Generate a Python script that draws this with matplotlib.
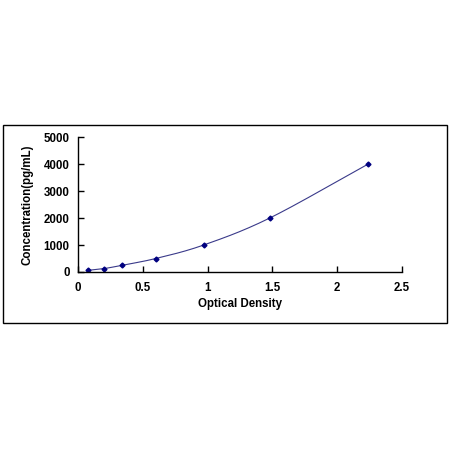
import numpy as np
import matplotlib
matplotlib.use("Agg")
import matplotlib.pyplot as plt
from matplotlib.patches import Rectangle

od = [0.08, 0.20, 0.34, 0.60, 0.97, 1.48, 2.24]
conc = [62.5, 125, 250, 500, 1000, 2000, 4000]
xticks = [0, 0.5, 1, 1.5, 2, 2.5]
xticklabels = ["0", "0.5", "1", "1.5", "2", "2.5"]
yticks = [0, 1000, 2000, 3000, 4000, 5000]
yticklabels = ["0", "1000", "2000", "3000", "4000", "5000"]

def catmull_rom(x, y, n=30):
    x = np.asarray(x, float); y = np.asarray(y, float)
    px = np.concatenate([[2*x[0]-x[1]], x, [2*x[-1]-x[-2]]])
    py = np.concatenate([[2*y[0]-y[1]], y, [2*y[-1]-y[-2]]])
    xs, ys = [], []
    for i in range(1, len(px)-2):
        t = np.linspace(0, 1, n)
        for p, out in ((px, xs), (py, ys)):
            p0, p1, p2, p3 = p[i-1], p[i], p[i+1], p[i+2]
            out.extend(0.5*((2*p1) + (-p0+p2)*t + (2*p0-5*p1+4*p2-p3)*t**2 + (-p0+3*p1-3*p2+p3)*t**3))
    return np.array(xs), np.array(ys)

plt.rcParams['font.family'] = ['Liberation Sans', 'DejaVu Sans']
fig = plt.figure(figsize=(4.5, 4.5), dpi=100)
fig.patch.set_facecolor('white')
fig.patches.append(Rectangle((3/450, 1-323/450), 444/450, 198/450, transform=fig.transFigure,
                             fill=False, edgecolor='black', linewidth=1.0))
ax = fig.add_axes([78/450, 1-272/450, 324/450, 135/450])
cx, cy = catmull_rom(od, conc)
ax.plot(cx, cy, color='#3a3a8a', linewidth=0.8)
ax.plot(od, conc, linestyle='none', marker='D', markersize=2.5, color='#000080')
ax.set_xlim(0, 2.5)
ax.set_ylim(0, 5000)
ax.set_xticks(xticks)
ax.set_xticklabels(xticklabels)
ax.set_yticks(yticks)
ax.set_yticklabels(yticklabels)
for s in ['top', 'right']:
    ax.spines[s].set_visible(False)
for s in ['left', 'bottom']:
    ax.spines[s].set_linewidth(1.0)
ax.tick_params(direction='in', length=4, width=1.0, labelsize=8.3)
ax.tick_params(axis='x', pad=7)
ax.tick_params(axis='y', pad=6)
for lab in ax.get_xticklabels() + ax.get_yticklabels():
    lab.set_fontweight('bold')
ax.set_xlabel('Optical Density', fontsize=8.3, fontweight='bold', labelpad=3)
ax.set_ylabel('Concentration(pg/mL)', fontsize=8.3, fontweight='bold', labelpad=7)
fig.savefig('out.png', dpi=100)
